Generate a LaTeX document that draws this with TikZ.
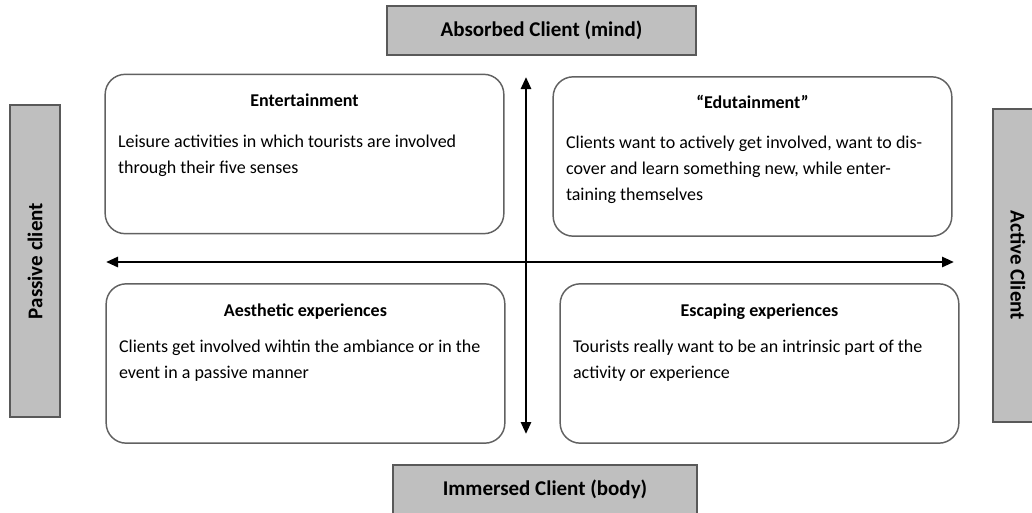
\documentclass[tikz,border=0pt]{standalone}
\usepackage{fontspec}
\setmainfont{Carlito}
\usetikzlibrary{arrows.meta,positioning}

\tikzset{
  client/.style={draw=black!65, fill=black!25, line width=1.3pt,
    font=\bfseries\fontsize{15.75}{18}\selectfont},
  quadrant/.style={draw=black!62, line width=1.1pt, rounded corners=15pt,
    minimum width=299pt, minimum height=119.5pt},
  qtitle/.style={font=\bfseries\fontsize{13.5}{16}\selectfont, inner sep=0pt},
  qtext/.style={font=\fontsize{13.5}{19.5}\selectfont, align=left,
    anchor=north west, inner sep=0pt},
  axis/.style={line width=2pt,
    {Triangle[length=9pt,width=7.5pt]}-{Triangle[length=9pt,width=7.5pt]}}
}

\begin{document}
\begin{tikzpicture}[x=0.75pt,y=-0.75pt]
  \useasboundingbox (0,0) rectangle (1032,512);

  % the four client types round the matrix
  \node[client, minimum width=231.75pt, minimum height=36.75pt] (mind) at (541.5,30.5) {Absorbed Client (mind)};
  \node[client, minimum width=228pt, minimum height=36.75pt] (body) at (545,489.5) {Immersed Client (body)};
  \node[client, rotate=90, minimum width=234pt, minimum height=37.5pt] (passive) at (35,261) {Passive client};
  \node[client, rotate=-90, minimum width=234.75pt, minimum height=37.5pt] (active) at (1018,265.5) {Active Client};

  % quadrants
  \node[quadrant] (ent) at (304.5,154) {};
  \node[quadrant] (edu) at (752.5,156.5) {};
  \node[quadrant] (aes) at (305.5,363.5) {};
  \node[quadrant] (esc) at (759.5,363.5) {};

  \node[qtitle] (entHead) at ([yshift=-20pt]ent.north) {Entertainment};
  \node[qtitle] (eduHead) at ([yshift=-19.5pt]edu.north) {“Edutainment”};
  \node[qtitle] (aesHead) at ([yshift=-21.5pt]aes.north) {Aesthetic experiences};
  \node[qtitle] (escHead) at ([yshift=-21.5pt]esc.north) {Escaping experiences};

  \node[qtext] (entText) at ([xshift=10pt,yshift=-45.5pt]ent.north west)
    {Leisure activities in which tourists are involved\\through their five senses};
  \node[qtext] (eduText) at ([xshift=10pt,yshift=-45pt]edu.north west)
    {Clients want to actively get involved, want to dis-\\cover and learn something new, while enter-\\taining themselves};
  \node[qtext] (aesText) at ([xshift=10pt,yshift=-42.5pt]aes.north west)
    {Clients get involved wihtin the ambiance or in the\\event in a passive manner};
  \node[qtext] (escText) at ([xshift=10pt,yshift=-42.5pt]esc.north west)
    {Tourists really want to be an intrinsic part of the\\activity or experience};

  % axes
  \coordinate (passiveEnd) at (106,262);
  \coordinate (activeEnd) at (954,262);
  \coordinate (mindEnd) at (526,77);
  \coordinate (bodyEnd) at (526,434);
  \draw[axis] (passiveEnd) -- (activeEnd);
  \draw[axis] (mindEnd) -- (bodyEnd);
\end{tikzpicture}
\end{document}
